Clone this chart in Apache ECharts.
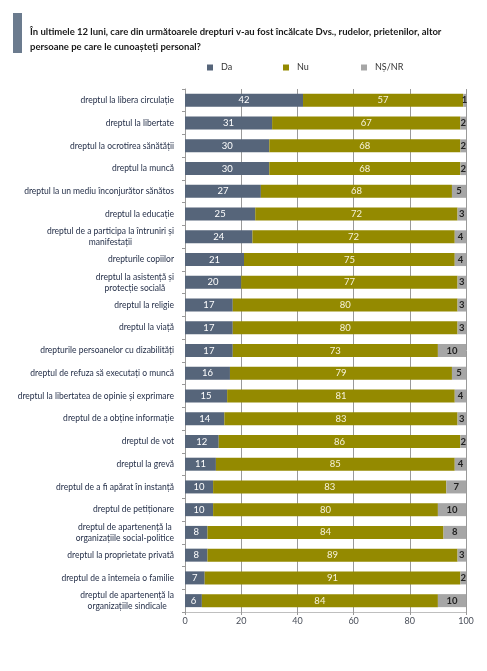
<!DOCTYPE html>
<html>
<head>
<meta charset="utf-8">
<script src="https://cdn.jsdelivr.net/npm/echarts@6/dist/echarts.min.js"></script>
<style>
html,body{margin:0;padding:0;background:#fff;}
#chart{width:487px;height:671px;}
</style>
</head>
<body>
<div id="chart"></div>
<script>
const categories = [
  "dreptul la libera circulație",
  "dreptul la libertate",
  "dreptul la ocrotirea sănătății",
  "dreptul la muncă",
  "dreptul la un mediu înconjurător sănătos",
  "dreptul la educație",
  "dreptul de a participa la întruniri și\nmanifestații",
  "drepturile copiilor",
  "dreptul la asistență și\nprotecție socială",
  "dreptul la religie",
  "dreptul la viață",
  "drepturile persoanelor cu dizabilități",
  "dreptul de refuza să executați o muncă",
  "dreptul la libertatea de opinie și exprimare",
  "dreptul de a obține informație",
  "dreptul de vot",
  "dreptul la grevă",
  "dreptul de a fi apărat în instanță",
  "dreptul de petiționare",
  "dreptul de apartenență la\norganizațiile social-politice",
  "dreptul la proprietate privată",
  "dreptul de a întemeia o familie",
  "dreptul de apartenență la\norganizațiile sindicale"
];
const seriesNames = ["Da", "Nu", "NȘ/NR"];
const daValues  = [42,31,30,30,27,25,24,21,20,17,17,17,16,15,14,12,11,10,10,8,8,7,6];
const nuValues  = [57,67,68,68,68,72,72,75,77,80,80,73,79,81,83,86,85,83,80,84,89,91,84];
const nsValues  = [1,2,2,2,5,3,4,4,3,3,3,10,5,4,3,2,4,7,10,8,3,2,10];
const xTicks = [0,20,40,60,80,100];

const titleText = "În ultimele 12 luni, care din următoarele drepturi v-au fost încălcate Dvs., rudelor, prietenilor, altor\npersoane pe care le cunoașteți personal?";

const FONT = "Lato";
const colors = ["#56657A", "#948A00", "#A6A6A6"];
const chart = echarts.init(document.getElementById('chart'), null, {renderer:'canvas'});

function labelFmt(v){
  if (v.indexOf('\n') < 0) return v;
  return v.split('\n').map(s => '{c|' + s + '}').join('\n');
}

const legendPos = [207, 283, 361];

chart.setOption({
  animation: false,
  backgroundColor: '#fff',
  textStyle: {fontFamily: FONT},
  title: {
    text: titleText,
    left: 25, top: 19,
    textStyle: {fontFamily: FONT, fontSize: 9.5, fontWeight: 'bold', color: '#1a1a1a', lineHeight: 15}
  },
  graphic: [{
    type: 'rect', shape: {x: 13, y: 13, width: 9, height: 40},
    style: {fill: '#6B7B8E'}
  }],
  legend: seriesNames.map((n, i) => ({
    data: [n], left: legendPos[i], top: 63, padding: 0,
    itemWidth: 6, itemHeight: 6, itemGap: 4,
    icon: 'rect',
    textStyle: {fontFamily: FONT, fontSize: 9, color: '#333', padding: [0,0,0,3]}
  })),
  grid: {left: 185, right: 21, top: 89, bottom: 59},
  xAxis: {
    type: 'value', min: 0, max: 100, interval: 20,
    axisLine: {show: true, lineStyle: {color: '#BFBFBF'}},
    axisTick: {show: true, length: 3, lineStyle: {color: '#999'}},
    splitLine: {show: true, lineStyle: {color: '#9A9A9A', width: 1}},
    axisLabel: {fontFamily: FONT, fontSize: 9, color: '#4a4f5a', margin: 5,
      formatter: v => xTicks.indexOf(v) >= 0 ? String(v) : ''}
  },
  yAxis: {
    type: 'category', data: categories, inverse: true,
    axisLine: {show: true, lineStyle: {color: '#9A9A9A'}},
    axisTick: {show: true, length: 3, lineStyle: {color: '#999'}},
    axisLabel: {
      fontFamily: FONT, fontSize: 8.5, color: '#1F2A44', margin: 11, lineHeight: 11,
      formatter: labelFmt,
      rich: {c: {fontFamily: FONT, fontSize: 8.5, color: '#1F2A44', align: 'center', lineHeight: 11}}
    }
  },
  series: [
    {name: seriesNames[0], type: 'bar', stack: 't', data: daValues, barWidth: 13,
     itemStyle: {color: colors[0]},
     label: {show: true, position: 'inside', color: '#fff', fontFamily: FONT, fontSize: 9.5}},
    {name: seriesNames[1], type: 'bar', stack: 't', data: nuValues, barWidth: 13,
     itemStyle: {color: colors[1]},
     label: {show: true, position: 'inside', color: '#F7F3DC', fontFamily: FONT, fontSize: 9.5}},
    {name: seriesNames[2], type: 'bar', stack: 't', data: nsValues, barWidth: 13,
     itemStyle: {color: colors[2]},
     label: {show: true, position: 'inside', color: '#222', fontFamily: FONT, fontSize: 9.5, fontWeight: 'bold'}}
  ]
});
</script>
</body>
</html>
